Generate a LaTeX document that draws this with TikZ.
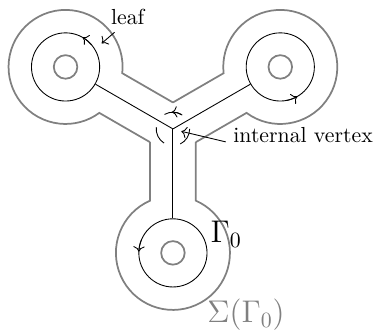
\documentclass[tikz,border=0pt]{standalone}
\usetikzlibrary{arrows.meta, calc}

\begin{document}
\begin{tikzpicture}[
    surface/.style={draw=black!50, thick},
    hole/.style={draw=black!50, thick},
    loopc/.style={draw, circle, minimum size=1.1cm, inner sep=0pt},
    >=To
  ]
  \useasboundingbox (-2.79,-3.32) rectangle (3.26,2.08);
  \coordinate (v) at (0,0);

  % leaves, holes and edges
  \foreach \a/\n in {150/L, 30/R, 270/B} {
    \node[loopc] (\n) at (\a:2) {};
    \draw[hole] (\n) circle[radius=0.19];
    \draw (v) -- (\n);
  }

  % boundary of the thickened graph
  \foreach \a/\n in {150/L, 270/B, 30/R} {
    \draw[surface] (\a-60:0.427) -- ($(\n)+(\a+203.7:0.92)$)
      arc[start angle=\a+203.7, end angle=\a+516.3, radius=0.92]
      -- (\a+60:0.427);
  }

  % orientations
  \foreach \n/\s in {L/40, R/-80, B/158} {
    \draw[->] ($(\n)+(\s:0.55)$) arc[start angle=\s, end angle=\s+20, radius=0.55];
  }
  \foreach \a in {88, 206, 328} {
    \draw (\a-32:0.27) arc[start angle=\a-32, end angle=\a+32, radius=0.27];
  }
  \draw[->] (60:0.27) arc[start angle=60, end angle=94, radius=0.27];

  \node (leaflabel) at (-0.73,1.81) {leaf};
  \coordinate (leaftip) at (-1.15,1.38);
  \draw[->] (leaflabel.230) -- (leaftip);

  \node (ivlabel) at (2.10,-0.10) {internal vertex};
  \coordinate (vtip) at (-16:0.14);
  \draw[->] (ivlabel.185) -- (vtip);

  \node[font=\Large] (g0) at (0.86,-1.70) {$\Gamma_0$};
  \node[font=\Large, text=black!50] (sg) at (1.18,-3.0) {$\Sigma(\Gamma_0)$};
\end{tikzpicture}
\end{document}
